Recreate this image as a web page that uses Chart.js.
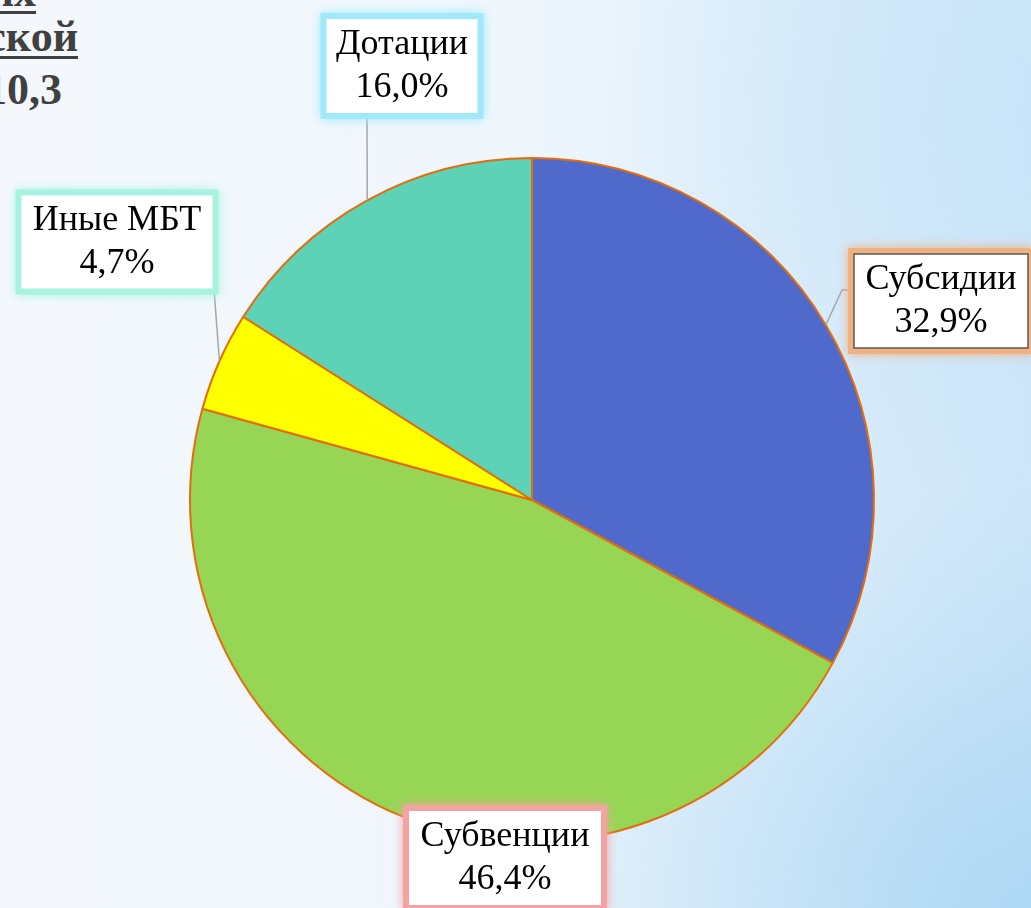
<!DOCTYPE html>
<html>
<head>
<meta charset="utf-8">
<script src="https://cdn.jsdelivr.net/npm/chart.js@4"></script>
<style>
  html, body { margin: 0; padding: 0; }
  body { width: 1031px; height: 908px; overflow: hidden; }
  .wrap {
    position: relative; width: 1031px; height: 908px; overflow: hidden;
    background:
      radial-gradient(ellipse 520px 420px at 1031px 908px, rgba(170,214,244,0.9), rgba(170,214,244,0) 100%),
      radial-gradient(ellipse 420px 520px at 1031px 120px, rgba(200,228,248,0.9), rgba(200,228,248,0) 100%),
      linear-gradient(90deg, #f4f8fc 0%, #eff6fc 50%, #dcedfa 82%, #cfe6f8 100%);
  }
  .title {
    position: absolute; font-family: "Liberation Serif", serif; font-weight: bold;
    color: #404040; font-size: 44px; line-height: 1; white-space: nowrap;
  }
  .title.u { text-decoration: underline; text-decoration-thickness: 3px; text-underline-offset: 5px; }
  canvas { position: absolute; left: 0; top: 0; }
</style>
</head>
<body>
<div class="wrap">
  <div class="title u" style="right:995px; top:-30px;">ских</div>
  <div class="title u" style="right:953px; top:15px;">ской</div>
  <div class="title" style="right:969px; top:68px;">10,3</div>
  <canvas id="pieChart" width="1031" height="908"></canvas>
</div>
<script>
// data
const categories = ['Субсидии', 'Субвенции', 'Иные МБТ', 'Дотации'];
const shares = [32.9, 46.4, 4.7, 16.0];
const shareLabels = ['32,9%', '46,4%', '4,7%', '16,0%'];
const sliceColors = ['#506acc', '#97d655', '#ffff00', '#5ed2b7'];
const glowColors = ['#f0b080', '#f5a2a2', '#a6f3df', '#9fe9fb'];

// label boxes (layout only): center x, center y, width, height, leader elbow
const boxes = [
  { cx: 941, cy: 301, w: 174, h: 94, border: true, elbow: [[842, 290], [854, 290]] },
  { cx: 505, cy: 858, w: 192, h: 94, border: false, elbow: null },
  { cx: 117, cy: 242, w: 191, h: 93, border: false, elbow: [[214, 289]] },
  { cx: 402, cy: 66, w: 151, h: 94, border: false, elbow: [[367, 113]] }
];

const labelPlugin = {
  id: 'boxLabels',
  afterDatasetsDraw(chart) {
    const ctx = chart.ctx;
    const meta = chart.getDatasetMeta(0);
    ctx.save();
    // leader lines
    meta.data.forEach((arc, i) => {
      const b = boxes[i];
      if (!b.elbow) return;
      const p = arc.getProps(['x', 'y', 'startAngle', 'endAngle', 'outerRadius'], true);
      const mid = (p.startAngle + p.endAngle) / 2;
      const ex = p.x + Math.cos(mid) * p.outerRadius;
      const ey = p.y + Math.sin(mid) * p.outerRadius;
      ctx.beginPath();
      ctx.strokeStyle = '#a6a6a6';
      ctx.lineWidth = 1.5;
      ctx.moveTo(ex, ey);
      b.elbow.forEach(pt => ctx.lineTo(pt[0], pt[1]));
      ctx.stroke();
    });
    // boxes with soft glow
    boxes.forEach((b, i) => {
      const x = b.cx - b.w / 2, y = b.cy - b.h / 2;
      ctx.save();
      ctx.shadowColor = glowColors[i];
      ctx.shadowBlur = 10;
      ctx.fillStyle = glowColors[i];
      ctx.fillRect(x - 6, y - 6, b.w + 12, b.h + 12);
      ctx.restore();
      ctx.fillStyle = '#ffffff';
      ctx.fillRect(x, y, b.w, b.h);
      if (b.border) {
        ctx.strokeStyle = '#595959';
        ctx.lineWidth = 1.5;
        ctx.strokeRect(x, y, b.w, b.h);
      }
      ctx.fillStyle = '#000000';
      ctx.font = '36px "Liberation Serif", serif';
      ctx.textAlign = 'center';
      ctx.textBaseline = 'middle';
      ctx.fillText(categories[i], b.cx, b.cy - 21);
      ctx.fillText(shareLabels[i], b.cx, b.cy + 22);
    });
    ctx.restore();
  }
};

const config = {
  type: 'pie',
  data: {
    labels: categories,
    datasets: [{
      data: shares,
      backgroundColor: sliceColors,
      borderColor: '#e46c0a',
      borderWidth: 2
    }]
  },
  options: {
    responsive: false,
    animation: false,
    events: [],
    layout: { padding: { left: 189, right: 156, top: 157, bottom: 65 } },
    plugins: {
      legend: { display: false },
      tooltip: { enabled: false }
    }
  },
  plugins: [labelPlugin]
};

const myChart = new Chart(document.getElementById('pieChart'), config);
</script>
</body>
</html>
